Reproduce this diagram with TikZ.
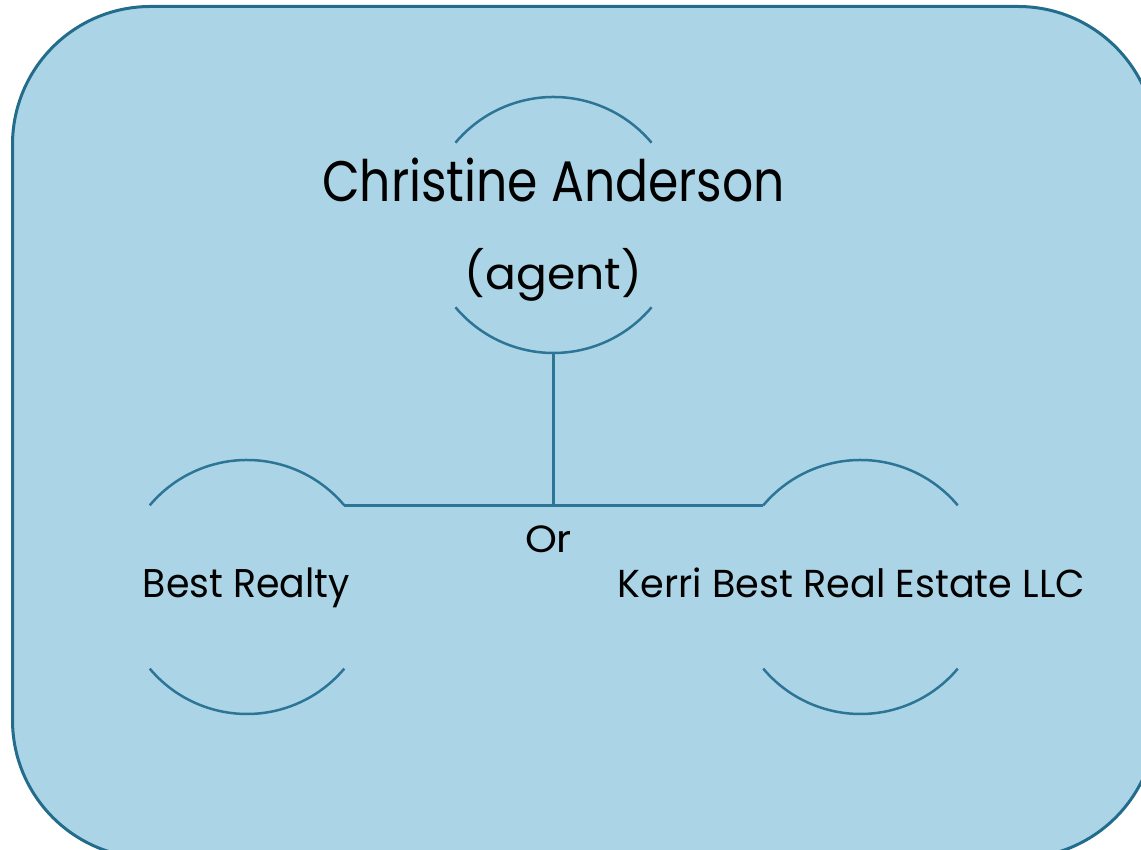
\documentclass[tikz,border=0pt]{standalone}
\usepackage{fontspec}
\setmainfont{Poppins}
\usepackage{graphicx}
\definecolor{panelfill}{RGB}{171,213,230}
\definecolor{panelline}{RGB}{36,108,140}
\definecolor{arcline}{RGB}{44,117,150}
\newcommand{\fitbox}[3]{\resizebox*{#1}{#2}{#3}}
\tikzset{
  ring/.style={circle, draw=none, inner sep=0pt, outer sep=0pt},
  arcpart/.style={draw=arcline, line width=2.5pt},
  link/.style={draw=arcline, line width=2.5pt},
  lbl/.style={inner sep=0pt, outer sep=0pt, anchor=base, text=black}
}
\begin{document}
\begin{tikzpicture}[x=1pt,y=1pt]
\useasboundingbox (0,0) rectangle (1141,850);
\clip (0,0) rectangle (1141,850);
\draw[fill=panelfill, draw=panelline, line width=3pt, rounded corners=138pt]
  (12.5,-8) rectangle (1156,843.5);
% rings
\node[ring, minimum size=256pt] (ca) at (553.5,625) {};
\node[ring, minimum size=254pt] (lc) at (247,263) {};
\node[ring, minimum size=254pt] (rc) at (860.5,263) {};
\draw[arcpart] (ca.40) arc[start angle=40, end angle=140, radius=128pt];
\draw[arcpart] (ca.220) arc[start angle=220, end angle=320, radius=128pt];
\draw[arcpart] (lc.40) arc[start angle=40, end angle=140, radius=127pt];
\draw[arcpart] (lc.220) arc[start angle=220, end angle=320, radius=127pt];
\draw[arcpart] (rc.40) arc[start angle=40, end angle=140, radius=127pt];
\draw[arcpart] (rc.220) arc[start angle=220, end angle=320, radius=127pt];
% connectors
\coordinate (j) at (ca.south |- lc.40);
\draw[link] (ca.south) -- (j);
\draw[link] (lc.40) -- (rc.140);
% labels
\node[lbl] (t1) at (553.5,648) {\fitbox{463pt}{44pt}{Christine Anderson}};
\node[lbl] (t2) at (553.5,560) {\fitbox{177pt}{53pt}{(agent)}};
\node[lbl] (t3) at (246.5,252) {\fitbox{207pt}{40pt}{Best Realty}};
\node[lbl] (t4) at (851.5,252) {\fitbox{467pt}{30pt}{Kerri Best Real Estate LLC}};
\node[lbl] (t5) at (548.5,297) {\fitbox{47pt}{27pt}{Or}};
\end{tikzpicture}
\end{document}
